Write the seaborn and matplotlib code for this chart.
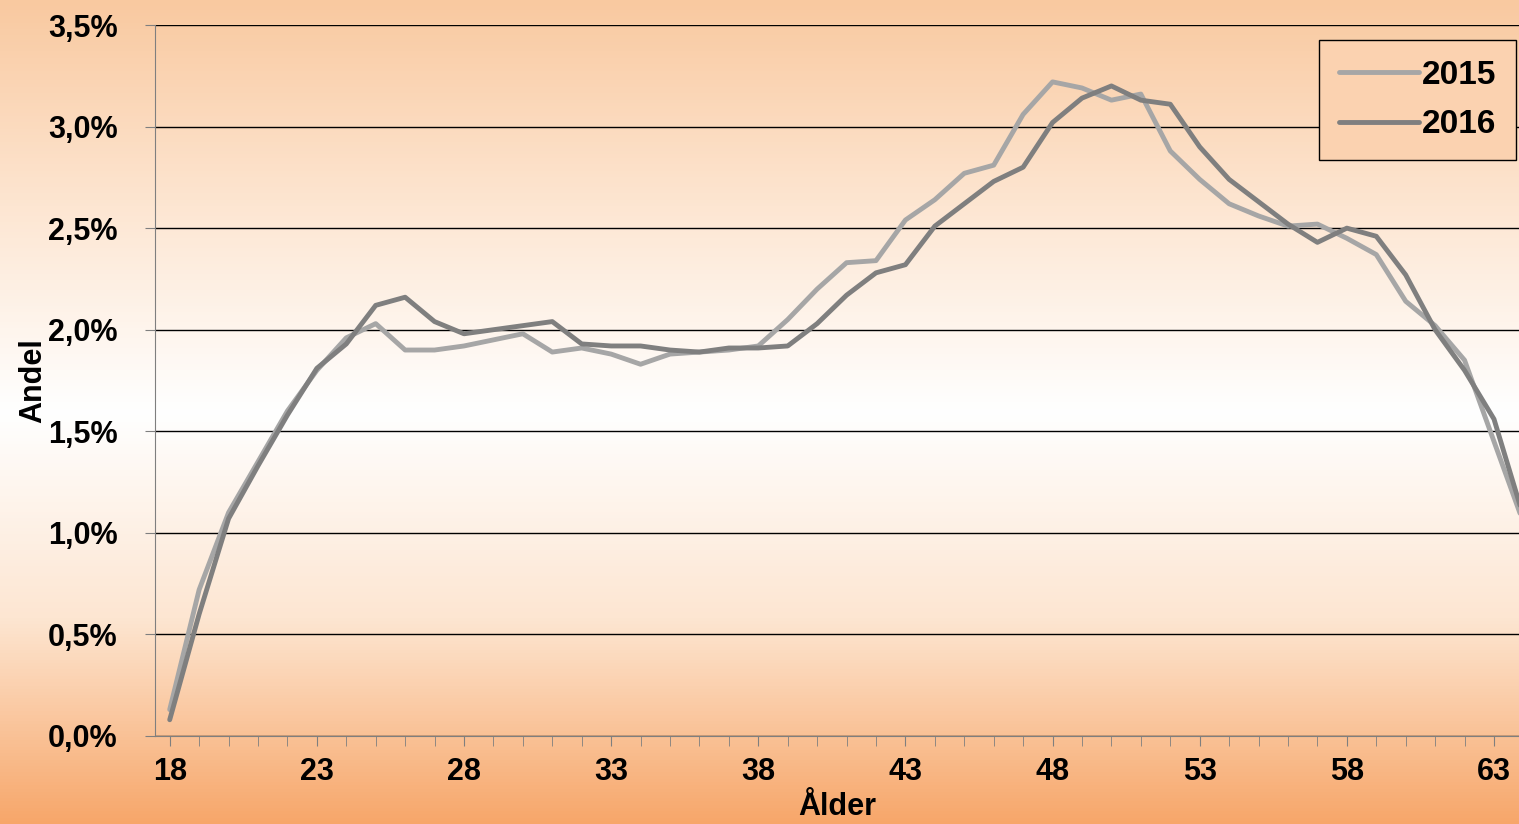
import numpy as np
import pandas as pd
import matplotlib.pyplot as plt
import seaborn as sns
from matplotlib.colors import LinearSegmentedColormap
from matplotlib.ticker import FuncFormatter, MultipleLocator

ages = list(range(18, 65))
andel_2015 = [0.13, 0.72, 1.10, 1.35, 1.60, 1.80, 1.96, 2.03, 1.90, 1.90, 1.92, 1.95, 1.98, 1.89,
              1.91, 1.88, 1.83, 1.88, 1.89, 1.90, 1.92, 2.05, 2.20, 2.33, 2.34, 2.54, 2.64, 2.77,
              2.81, 3.06, 3.22, 3.19, 3.13, 3.16, 2.88, 2.74, 2.62, 2.56, 2.51, 2.52, 2.45, 2.37,
              2.14, 2.02, 1.85, 1.45, 1.05]
andel_2016 = [0.08, 0.60, 1.07, 1.33, 1.58, 1.81, 1.93, 2.12, 2.16, 2.04, 1.98, 2.00, 2.02, 2.04,
              1.93, 1.92, 1.92, 1.90, 1.89, 1.91, 1.91, 1.92, 2.03, 2.17, 2.28, 2.32, 2.51, 2.62,
              2.73, 2.80, 3.02, 3.14, 3.20, 3.13, 3.11, 2.90, 2.74, 2.63, 2.52, 2.43, 2.50, 2.46,
              2.27, 2.00, 1.80, 1.56, 1.08]

df = pd.DataFrame({'Ålder': ages * 2,
                   'Andel': andel_2015 + andel_2016,
                   'År': ['2015'] * len(ages) + ['2016'] * len(ages)})

sns.set_style('white')
plt.rcParams['font.family'] = ['Liberation Sans', 'DejaVu Sans']
plt.rcParams['font.weight'] = 'bold'
plt.rcParams['text.color'] = 'black'
plt.rcParams['axes.labelcolor'] = 'black'
plt.rcParams['xtick.color'] = 'black'
plt.rcParams['ytick.color'] = 'black'

fig = plt.figure(figsize=(15.19, 8.24), dpi=100)

# background gradient
bg = fig.add_axes([0, 0, 1, 1], zorder=-10)
cmap = LinearSegmentedColormap.from_list('bg', ['#f9c9a0', '#fde6d2', '#ffffff', '#fde6d2', '#f7a66a'])
bg.imshow(np.linspace(0, 1, 256).reshape(-1, 1), aspect='auto', cmap=cmap, extent=[0, 1, 0, 1])
bg.axis('off')

ax = fig.add_axes([155 / 1519, 1 - 736 / 824, 1 - 155 / 1519, (736 - 25) / 824])
ax.patch.set_alpha(0)
sns.lineplot(data=df, x='Ålder', y='Andel', hue='År', palette={'2015': '#a6a6a6', '2016': '#7f7f7f'},
             linewidth=3.5, ax=ax)

ax.set_xlim(17.5, 63.85)
ax.set_ylim(0, 3.5)
ax.yaxis.set_major_locator(MultipleLocator(0.5))
ax.yaxis.set_major_formatter(FuncFormatter(lambda v, p: f'{v:.1f}%'.replace('.', ',')))
ax.set_xticks(range(18, 64, 5))
ax.xaxis.set_minor_locator(MultipleLocator(1))
ax.grid(axis='y', color='black', linewidth=1)
ax.set_axisbelow(True)
for s in ['top', 'right']:
    ax.spines[s].set_visible(False)
for s in ['left', 'bottom']:
    ax.spines[s].set_color('#7f7f7f')
ax.tick_params(axis='both', which='major', labelsize=22, length=7, direction='out', color='#7f7f7f',
               bottom=True, left=True, pad=8)
ax.tick_params(axis='y', which='major', pad=20)
ax.tick_params(axis='x', which='minor', length=7, direction='out', color='#7f7f7f', bottom=True)
ax.set_xlabel('Ålder', fontsize=22, fontweight='bold', labelpad=4)
ax.set_ylabel('Andel', fontsize=22, fontweight='bold', labelpad=0)

handles, labels = ax.get_legend_handles_labels()
leg = ax.legend(handles, labels, loc='upper right', bbox_to_anchor=(0.998, 0.979), fontsize=24,
                frameon=True, fancybox=False, facecolor='#fbd2b0', edgecolor='black',
                handlelength=2.4, handletextpad=0.1, borderpad=0.6, labelspacing=0.55,
                borderaxespad=0)
leg.get_frame().set_alpha(1)
leg._legend_box.align = 'right'
for t in leg.get_texts():
    t.set_fontweight('bold')
# widen box to the left like the original
leg.set_bbox_to_anchor((0.998, 0.979))
fig.canvas.draw()
fr = leg.get_frame()
x0 = fr.get_x()
fr.set_x(x0 - 40)
fr.set_width(fr.get_width() + 40)

fig.savefig('out.png', dpi=100)
